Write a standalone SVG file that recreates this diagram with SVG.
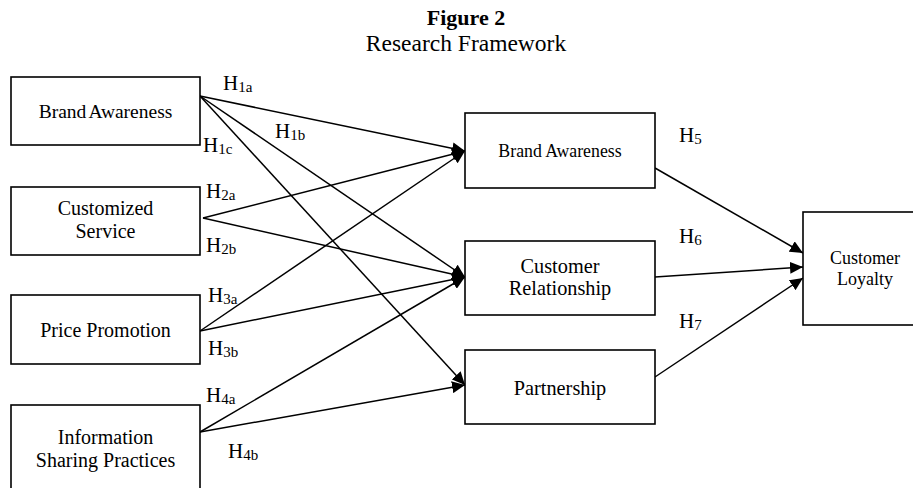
<svg xmlns="http://www.w3.org/2000/svg" width="913" height="488" viewBox="0 0 913 488">
<style>
.box{fill:#fff;stroke:#000;stroke-width:1.6}
.t{font-family:"Liberation Serif","Times New Roman",serif;fill:#000;text-anchor:middle}
.lbl{font-family:"Liberation Serif","Times New Roman",serif;fill:#000;font-size:21px}
.sub{font-size:15px}
.c{stroke:#000;stroke-width:1.5;fill:none;marker-end:url(#ah)}
</style>
<defs>
<marker id="ah" markerUnits="userSpaceOnUse" markerWidth="14" markerHeight="12" refX="13" refY="6" orient="auto">
<path d="M0,0 L13,6 L0,12 z" fill="#000"/>
</marker>
</defs>
<rect width="913" height="488" fill="#fff"/>
<g id="title">
<text class="t" x="466" y="25" font-size="22" font-weight="bold">Figure 2</text>
<text class="t" x="466" y="51" font-size="23.5">Research Framework</text>
</g>
<g id="connectors">
<line class="c" x1="200" y1="96" x2="465" y2="151"/>
<line class="c" x1="200" y1="96" x2="465" y2="277"/>
<line class="c" x1="200" y1="96" x2="465" y2="385"/>
<line class="c" x1="203" y1="218" x2="465" y2="151"/>
<line class="c" x1="203" y1="218" x2="465" y2="277"/>
<line class="c" x1="200" y1="331" x2="465" y2="151"/>
<line class="c" x1="200" y1="331" x2="465" y2="277"/>
<line class="c" x1="200" y1="432" x2="465" y2="277"/>
<line class="c" x1="200" y1="432" x2="465" y2="385"/>
<line class="c" x1="655" y1="168" x2="803" y2="253"/>
<line class="c" x1="655" y1="277" x2="803" y2="267"/>
<line class="c" x1="655" y1="377" x2="803" y2="278"/>
</g>
<g id="labels">
<text class="lbl" x="223" y="90">H<tspan class="sub" dy="2">1a</tspan></text>
<text class="lbl" x="275" y="138">H<tspan class="sub" dy="2">1b</tspan></text>
<text class="lbl" x="203" y="152">H<tspan class="sub" dy="2">1c</tspan></text>
<text class="lbl" x="206" y="198">H<tspan class="sub" dy="2">2a</tspan></text>
<text class="lbl" x="206" y="252">H<tspan class="sub" dy="2">2b</tspan></text>
<text class="lbl" x="208" y="302">H<tspan class="sub" dy="2">3a</tspan></text>
<text class="lbl" x="208" y="355">H<tspan class="sub" dy="2">3b</tspan></text>
<text class="lbl" x="206" y="402">H<tspan class="sub" dy="2">4a</tspan></text>
<text class="lbl" x="228" y="458">H<tspan class="sub" dy="2">4b</tspan></text>
<text class="lbl" x="679" y="142">H<tspan class="sub" dy="2">5</tspan></text>
<text class="lbl" x="679" y="243">H<tspan class="sub" dy="2">6</tspan></text>
<text class="lbl" x="679" y="328">H<tspan class="sub" dy="2">7</tspan></text>
</g>
<g id="brand-awareness-1">
<rect class="box" x="11" y="77" width="189" height="68"/>
<text class="t" x="105.5" y="118" font-size="19.5" word-spacing="-1.5">Brand Awareness</text>
</g>
<g id="customized-service">
<rect class="box" x="11" y="187" width="189" height="68"/>
<text class="t" x="105.5" y="215" font-size="20">Customized</text>
<text class="t" x="105.5" y="238" font-size="20">Service</text>
</g>
<g id="price-promotion">
<rect class="box" x="11" y="295" width="189" height="69"/>
<text class="t" x="105.5" y="337" font-size="20">Price Promotion</text>
</g>
<g id="information-sharing">
<rect class="box" x="11" y="405" width="189" height="100"/>
<text class="t" x="105.5" y="444" font-size="20">Information</text>
<text class="t" x="105.5" y="467" font-size="20">Sharing Practices</text>
</g>
<g id="brand-awareness-2">
<rect class="box" x="465" y="113" width="190" height="75"/>
<text class="t" x="560" y="157" font-size="17.8">Brand Awareness</text>
</g>
<g id="customer-relationship">
<rect class="box" x="465" y="241" width="190" height="74"/>
<text class="t" x="560" y="273" font-size="20.3">Customer</text>
<text class="t" x="560" y="295" font-size="20.3">Relationship</text>
</g>
<g id="partnership">
<rect class="box" x="465" y="350" width="190" height="74"/>
<text class="t" x="560" y="395" font-size="20.3">Partnership</text>
</g>
<g id="customer-loyalty">
<rect class="box" x="803" y="212" width="130" height="113"/>
<text class="t" x="865" y="264" font-size="18">Customer</text>
<text class="t" x="865" y="285" font-size="18">Loyalty</text>
</g>
</svg>
